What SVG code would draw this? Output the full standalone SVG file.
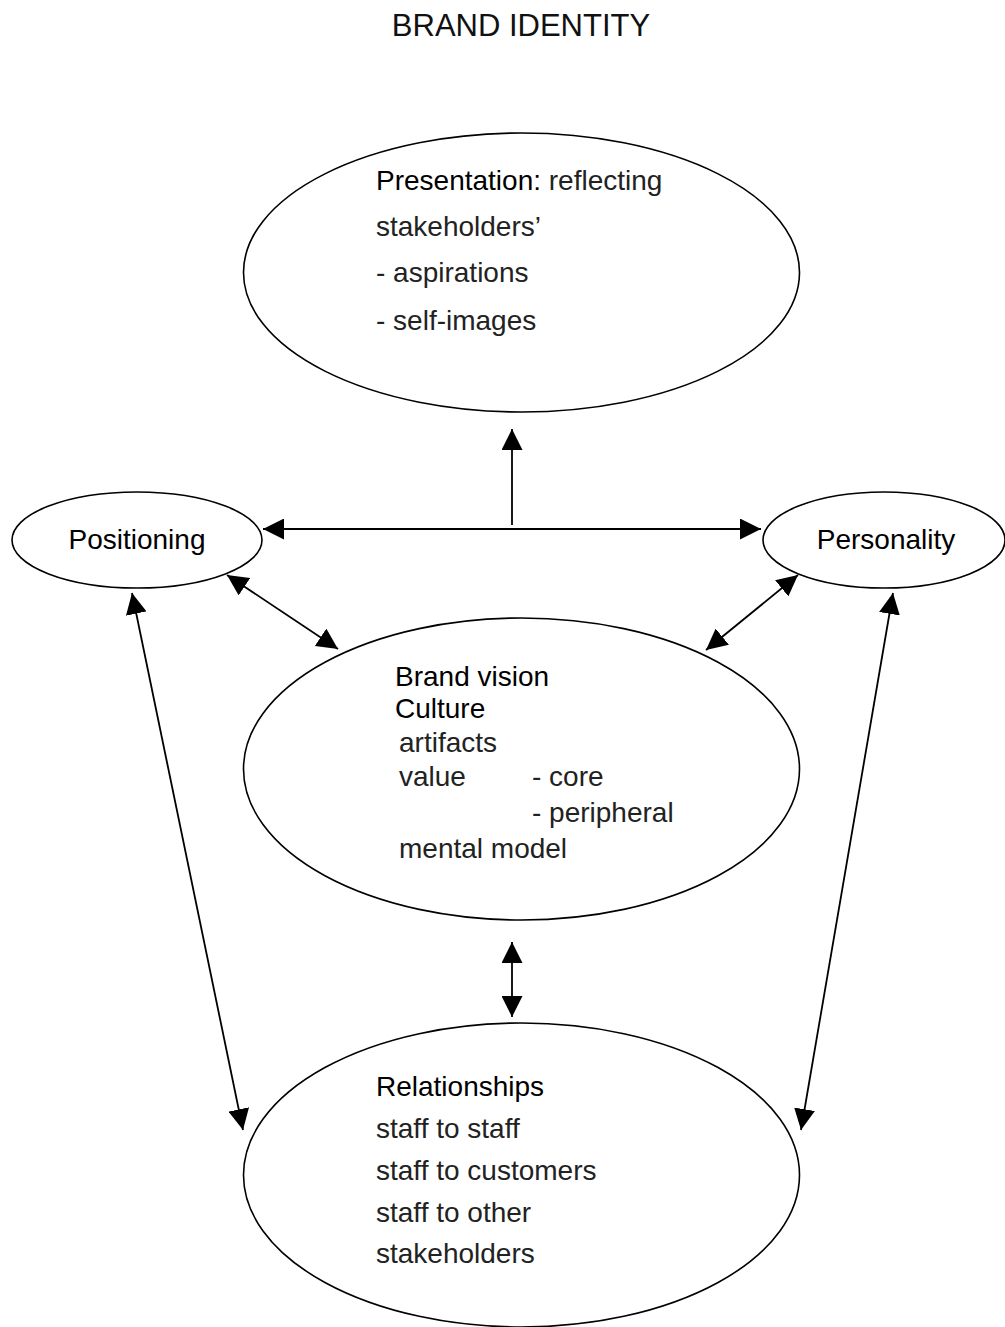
<svg xmlns="http://www.w3.org/2000/svg" width="1005" height="1327" viewBox="0 0 1005 1327">
  <style>
    .shape { fill: #fff; stroke: #000; stroke-width: 1.6; }
    .link { fill: none; stroke: #000; stroke-width: 1.8; }
    text { font-family: "Liberation Sans", Arial, sans-serif; font-size: 28px; }
    .head { fill: #000; }
    .body { fill: #222; }
    .title { font-size: 31px; fill: #111; }
  </style>
  <defs>
    <marker id="tip" viewBox="0 0 20 20" refX="20" refY="10" markerWidth="21" markerHeight="21" markerUnits="userSpaceOnUse" orient="auto-start-reverse">
      <path d="M0,0 L20,10 L0,20 Z" fill="#000"/>
    </marker>
  </defs>
  <rect width="1005" height="1327" fill="#fff"/>

  <text class="title" x="521" y="36" text-anchor="middle">BRAND IDENTITY</text>

  <g id="presentation">
    <ellipse class="shape" cx="521.5" cy="272.5" rx="278" ry="139.5"/>
    <text x="376" y="190"><tspan class="head">Presentation:</tspan><tspan class="body"> reflecting</tspan></text>
    <text class="body" x="376" y="236">stakeholders’</text>
    <text class="body" x="376" y="282">- aspirations</text>
    <text class="body" x="376" y="330">- self-images</text>
  </g>

  <g id="positioning">
    <ellipse class="shape" cx="137" cy="540" rx="125" ry="48"/>
    <text class="head" x="137" y="549" text-anchor="middle">Positioning</text>
  </g>

  <g id="personality">
    <ellipse class="shape" cx="884" cy="540" rx="121" ry="48"/>
    <text class="head" x="886" y="549" text-anchor="middle">Personality</text>
  </g>

  <g id="brand-vision">
    <ellipse class="shape" cx="521.5" cy="769" rx="278" ry="151"/>
    <text class="head" x="395" y="686">Brand vision</text>
    <text class="head" x="395" y="718">Culture</text>
    <text class="body" x="399" y="752">artifacts</text>
    <text class="body" x="399" y="786">value</text>
    <text class="body" x="532" y="786">- core</text>
    <text class="body" x="532" y="822">- peripheral</text>
    <text class="body" x="399" y="858">mental model</text>
  </g>

  <g id="relationships">
    <ellipse class="shape" cx="521.5" cy="1175" rx="278" ry="152"/>
    <text class="head" x="376" y="1096">Relationships</text>
    <text class="body" x="376" y="1138">staff to staff</text>
    <text class="body" x="376" y="1180">staff to customers</text>
    <text class="body" x="376" y="1222">staff to other</text>
    <text class="body" x="376" y="1263">stakeholders</text>
  </g>

  <g id="connectors">
    <line class="link" x1="263" y1="529" x2="761" y2="529" marker-start="url(#tip)" marker-end="url(#tip)"/>
    <line class="link" x1="512" y1="525" x2="512" y2="429" marker-end="url(#tip)"/>
    <line class="link" x1="227" y1="575" x2="338" y2="649" marker-start="url(#tip)" marker-end="url(#tip)"/>
    <line class="link" x1="798" y1="575" x2="706" y2="650" marker-start="url(#tip)" marker-end="url(#tip)"/>
    <line class="link" x1="132" y1="593" x2="243" y2="1130" marker-start="url(#tip)" marker-end="url(#tip)"/>
    <line class="link" x1="893" y1="593" x2="801" y2="1130" marker-start="url(#tip)" marker-end="url(#tip)"/>
    <line class="link" x1="512" y1="942" x2="512" y2="1017" marker-start="url(#tip)" marker-end="url(#tip)"/>
  </g>
</svg>
